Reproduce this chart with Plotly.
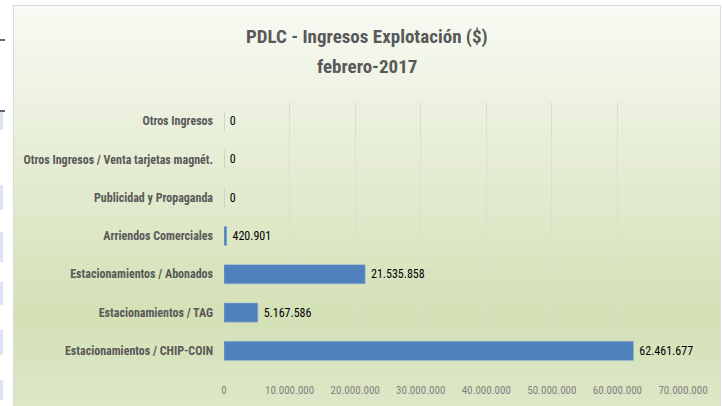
import plotly.graph_objects as go

categories = [
    "Otros Ingresos",
    "Otros Ingresos / Venta tarjetas magnét.",
    "Publicidad y Propaganda",
    "Arriendos Comerciales",
    "Estacionamientos / Abonados",
    "Estacionamientos / TAG",
    "Estacionamientos / CHIP-COIN",
]
values = [0, 0, 0, 420901, 21535858, 5167586, 62461677]
tick_vals = [0, 10000000, 20000000, 30000000, 40000000, 50000000, 60000000, 70000000]
tick_text = ["0", "10.000.000", "20.000.000", "30.000.000", "40.000.000",
             "50.000.000", "60.000.000", "70.000.000"]
title_lines = ["PDLC - Ingresos Explotación ($)", "febrero-2017"]

labels = [" " + f"{v:,}".replace(",", ".") for v in values]

FONT = "Liberation Sans Narrow, Roboto Condensed, DejaVu Sans Condensed, Lato, sans-serif"

fig = go.Figure(go.Bar(
    y=categories, x=values, orientation="h",
    marker=dict(color="#4f81bd", line=dict(color="#9fb7d8", width=0.5)),
    width=0.5,
    text=labels, textposition="outside", cliponaxis=False,
    textfont=dict(size=12, color="#000000", family=FONT),
    hoverinfo="skip",
))

PL, PR, PT, PB = 224, 683, 102, 370
W = PR - PL
H = PB - PT


def px(x):
    return (x - PL) / W


def py(y):
    return 1 - (y - PT) / H


shapes = []
top = (0xf8, 0xfa, 0xf3)
mid = (0xd4, 0xe1, 0xb6)
bot = (0xdd, 0xe7, 0xc7)
n = 50
y0p, y1p = 5, 406
for i in range(n):
    t = i / (n - 1)
    if t < 0.78:
        s = t / 0.78
        c = tuple(int(top[k] + (mid[k] - top[k]) * s) for k in range(3))
    else:
        s = (t - 0.78) / 0.22
        c = tuple(int(mid[k] + (bot[k] - mid[k]) * s) for k in range(3))
    ya = y0p + (y1p - y0p) * i / n
    yb = y0p + (y1p - y0p) * (i + 1) / n + 1
    shapes.append(dict(type="rect", xref="paper", yref="paper",
                       x0=px(13), x1=px(721), y0=py(yb), y1=py(ya),
                       line=dict(width=0), fillcolor="rgb(%d,%d,%d)" % c, layer="below"))
# border
shapes.append(dict(type="rect", xref="paper", yref="paper",
                   x0=px(13.5), x1=px(720.5), y0=py(410), y1=py(5.5),
                   line=dict(width=1, color="#d9d9d9"), fillcolor="rgba(0,0,0,0)", layer="below"))
# left-edge spreadsheet artifacts
for (ya, yb) in [(112, 130), (185, 210), (232, 262), (282, 305), (330, 355), (380, 400)]:
    shapes.append(dict(type="rect", xref="paper", yref="paper",
                       x0=px(0), x1=px(3), y0=py(yb), y1=py(ya),
                       line=dict(width=0), fillcolor="#dce5f4", layer="below"))
for yy in [40, 111]:
    shapes.append(dict(type="line", xref="paper", yref="paper",
                       x0=px(0), x1=px(5), y0=py(yy), y1=py(yy),
                       line=dict(width=1.5, color="#333333"), layer="below"))

annotations = []
for line, yy in zip(title_lines, [37, 67]):
    annotations.append(dict(
        text="<b>%s</b>" % line,
        xref="paper", yref="paper", x=px(367), y=py(yy),
        xanchor="center", yanchor="middle", showarrow=False, align="center",
        font=dict(size=19, color="#595959", family=FONT),
    ))

fig.update_layout(
    width=722, height=406,
    margin=dict(l=PL, r=722 - PR, t=PT, b=406 - PB, autoexpand=False),
    paper_bgcolor="white", plot_bgcolor="rgba(0,0,0,0)",
    showlegend=False,
    shapes=shapes,
    font=dict(family=FONT),
    annotations=annotations,
    bargap=0.5,
)
fig.update_xaxes(
    range=[0, 70000000], tickvals=tick_vals, ticktext=tick_text,
    showgrid=True, gridcolor="#dadfd2", gridwidth=1, zeroline=False,
    tickfont=dict(size=11, color="#808080", family=FONT),
    showline=False, ticks="", ticklabelstandoff=12, automargin=False,
)
fig.update_yaxes(
    autorange="reversed", showgrid=False, showline=False, ticks="",
    ticklabelstandoff=10, automargin=False,
    tickfont=dict(size=12, color="#595959", family=FONT),
    tickvals=categories, ticktext=["<b>%s</b>" % c for c in categories],
)

fig.write_html("out.html", config={"displayModeBar": False},
               post_script="document.body.style.margin='0';document.body.style.padding='0';")
